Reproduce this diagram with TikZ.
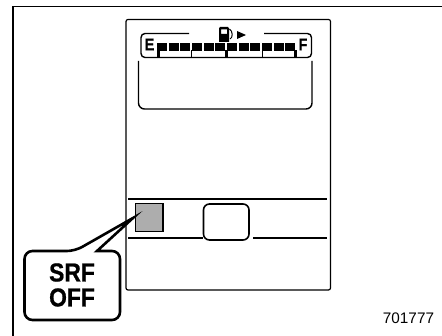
\documentclass[tikz,border=0pt]{standalone}
\usepackage{fontspec}
\setmainfont{Liberation Sans}
\newfontfamily\heavyfont[BoldFeatures={FakeBold=0.8}]{Liberation Sans}
\tikzset{
	thinline/.style={line width=1.2pt},
	midline/.style={line width=1.4pt},
	gaugetext/.style={inner sep=0pt, xscale=.85, transform shape, font=\heavyfont\bfseries\fontsize{17}{17}\selectfont},
	calloutext/.style={inner sep=0pt, align=center, xscale=.88, transform shape, font=\heavyfont\bfseries\fontsize{26}{25}\selectfont}
}
\begin{document}
\begin{tikzpicture}[x=1pt, y=-1pt]
	\useasboundingbox (0,0) rectangle (442,336);
	\draw[line width=1.6pt] (13,336) -- (13,6.5) -- (442,6.5);
	\draw[thinline, rounded corners=2pt] (126,19.5) rectangle (330.5,290);
	\draw[midline, rounded corners=4pt] (189,33.5) -- (141,33.5) -- (141,57.5) -- (311.5,57.5) -- (311.5,33.5) -- (264,33.5);
	\draw[midline, rounded corners=6pt] (138.5,61) -- (138.5,109) -- (312,109) -- (312,61);
	\foreach \i in {0,...,11}
		\fill ({157+11.67*\i},43.5) rectangle ++(10,7.5);
	\foreach \x in {158,226,295}
		\draw[line width=3pt] (\x,50) -- (\x,57);
	\foreach \x in {191,262}
		\draw[line width=1pt] (\x,50) -- (\x,57);
	\node[gaugetext] (gaugeE) at (149.5,44.5) {E};
	\node[gaugetext] (gaugeF) at (303,44.5) {F};
	\fill[even odd rule] (219,42) -- (219,28.5) -- (220,27) -- (228,27) -- (229,28.5) -- (229,42) -- cycle (221,29.5) rectangle (227,34);
	\draw[line width=1pt] (229.5,29) .. controls (233,31) and (233,38) .. (230,39);
	\fill (237,31) -- (246,35) -- (237,39) -- cycle;
	\draw[thinline] (128,199) -- (327,199);
	\draw[thinline] (128,238) -- (203,238);
	\draw[thinline] (253,238) -- (327,238);
	\draw[line width=1.6pt, fill=white, rounded corners=6pt] (203.5,204) rectangle (249,240);
	\draw[line width=1.8pt, fill=black!32] (135.5,203.5) rectangle (163,231.5);
	\draw[line width=2.6pt, line join=miter, fill=white, rounded corners=8pt] (24.5,251) -- (75,251) [sharp corners] -- (133,218) -- (97,251) [rounded corners=8pt] -- (120,251) -- (120,320) -- (24.5,320) -- cycle;
	\node[calloutext] (srfoff) at (72,285) {SRF\\OFF};
	\node[inner sep=0pt, font=\fontsize{15.3}{15.3}\selectfont] (partno) at (408.5,318) {701777};
\end{tikzpicture}
\end{document}
